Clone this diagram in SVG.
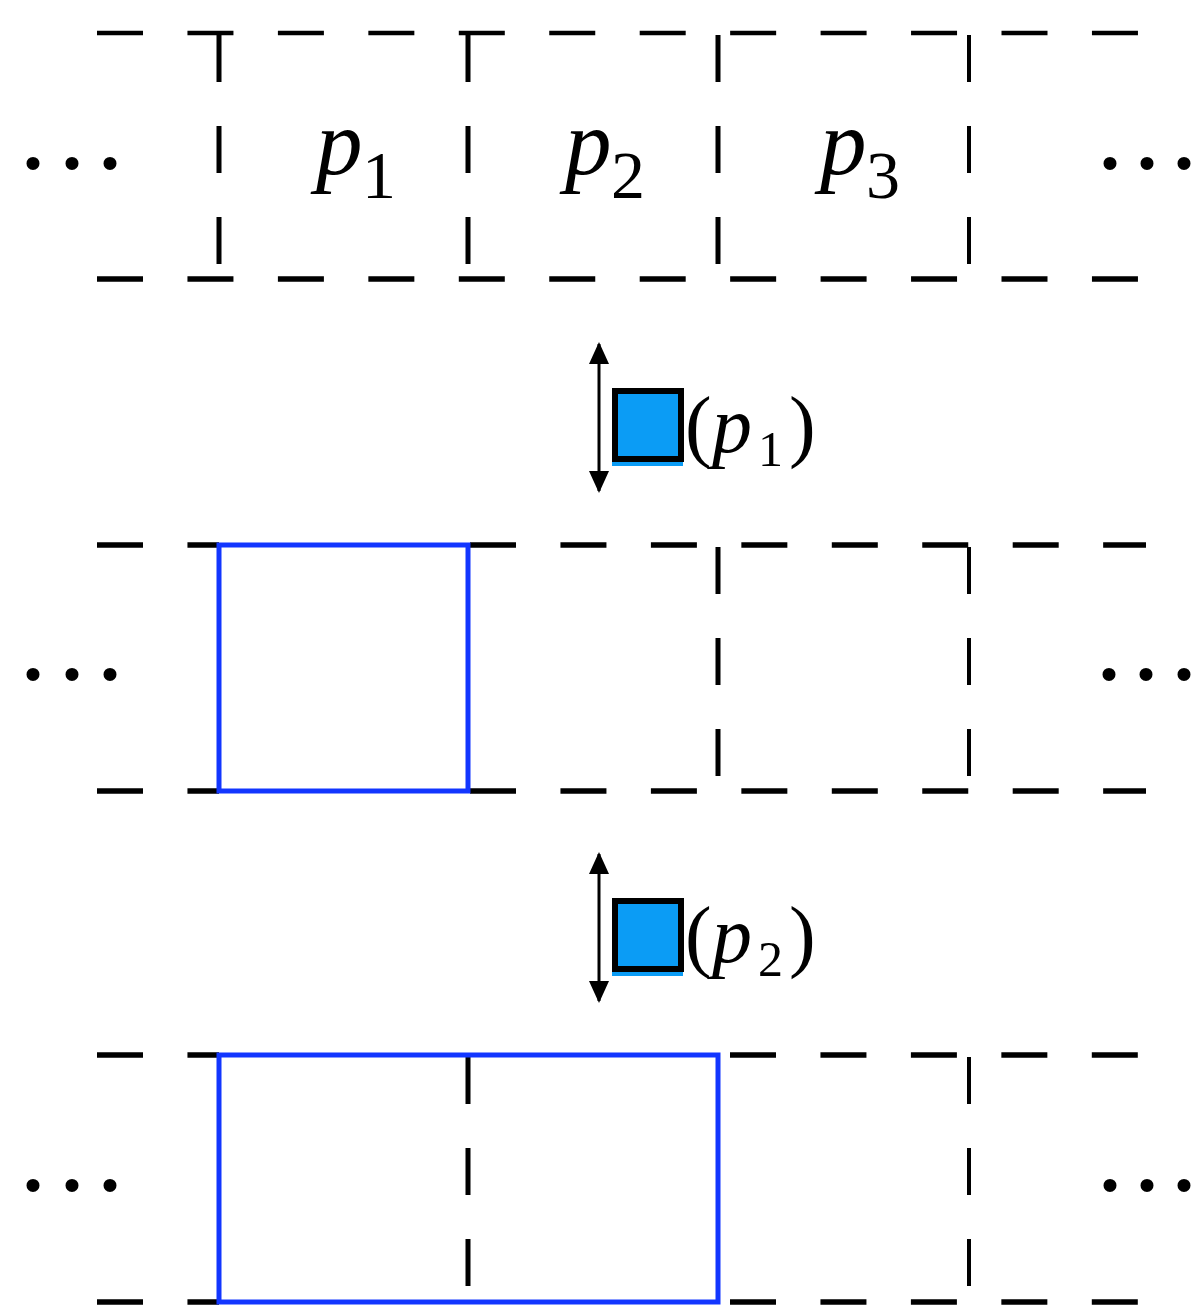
<svg xmlns="http://www.w3.org/2000/svg" width="1198" height="1308" viewBox="0 0 1198 1308">
<style>
.hd{stroke:#000;stroke-width:5.5;stroke-dasharray:46 44.45;fill:none}
.hd0{stroke:#000;stroke-width:4.5;stroke-dasharray:46 44.45;fill:none}
.vd{stroke:#000;stroke-width:5;stroke-dasharray:47 44;fill:none}
.vd4{stroke:#000;stroke-width:4;stroke-dasharray:47 44;fill:none}
.blue{stroke:#1236ff;stroke-width:5;fill:none}
.lbl{font-family:"Liberation Serif","Times New Roman",serif;font-size:93px;fill:#000}
.it{font-style:italic}
.sub{font-style:normal;font-size:68px}
.lab2{font-family:"Liberation Serif","Times New Roman",serif;font-size:80px;fill:#000}
.sub2{font-size:50px}
.dots{font-family:"Liberation Serif","Times New Roman",serif;font-size:110px;fill:#000;text-anchor:middle}
.arr{stroke:#000;stroke-width:3;fill:none}
.sqf{fill:#0b9cf5}
.sqs{fill:none;stroke:#000;stroke-width:6}
</style>
<defs>
<marker id="ah" viewBox="0 0 22 22" refX="20" refY="11" markerWidth="22" markerHeight="22" markerUnits="userSpaceOnUse" orient="auto-start-reverse">
<path d="M0,1 L22,11 L0,21 Z" fill="#000"/>
</marker>
</defs>

<g id="row1">
<line class="hd0" x1="97" y1="33" x2="1139" y2="33"/>
<line class="hd" x1="97" y1="279" x2="1139" y2="279"/>
<line class="vd" x1="219" y1="35" x2="219" y2="279"/>
<line class="vd" x1="468" y1="35" x2="468" y2="279"/>
<line class="vd" x1="718" y1="35" x2="718" y2="279"/>
<line class="vd4" x1="969" y1="35" x2="969" y2="279"/>
<text class="dots" x="33 72 110" y="168">...</text>
<text class="dots" x="1110 1147 1184" y="168">...</text>
<text id="p1" class="lbl"><tspan class="it" x="316" y="174">p</tspan><tspan class="sub" x="362" y="198">1</tspan></text>
<text id="p2" class="lbl"><tspan class="it" x="565" y="174">p</tspan><tspan class="sub" x="611" y="198">2</tspan></text>
<text id="p3" class="lbl"><tspan class="it" x="820" y="174">p</tspan><tspan class="sub" x="866" y="198">3</tspan></text>
</g>

<g id="op1">
<rect class="sqf" x="612" y="391" width="71" height="75"/>
<rect class="sqs" x="615" y="391" width="66" height="68"/>
<text class="lab2"><tspan x="685" y="452">(</tspan><tspan class="it" x="712" y="452">p</tspan><tspan class="sub2" x="758" y="466">1</tspan><tspan x="789" y="452">)</tspan></text>
</g>

<g id="row2">
<line class="hd" x1="97" y1="545" x2="219" y2="545"/>
<line class="hd" x1="470" y1="545" x2="1146" y2="545"/>
<line class="hd" x1="97" y1="791" x2="219" y2="791"/>
<line class="hd" x1="470" y1="791" x2="1146" y2="791"/>
<line class="vd" x1="718" y1="547" x2="718" y2="791"/>
<line class="vd4" x1="969" y1="547" x2="969" y2="791"/>
<rect class="blue" x="219" y="545" width="249" height="246"/>
<text class="dots" x="33 72 110" y="679">...</text>
<text class="dots" x="1109 1146 1184" y="679">...</text>
</g>

<g id="op2">
<rect class="sqf" x="612" y="901" width="71" height="75"/>
<rect class="sqs" x="615" y="901" width="66" height="68"/>
<text class="lab2"><tspan x="685" y="962">(</tspan><tspan class="it" x="712" y="962">p</tspan><tspan class="sub2" x="758" y="976">2</tspan><tspan x="789" y="962">)</tspan></text>
</g>

<g id="row3">
<line class="hd" x1="97" y1="1055" x2="219" y2="1055"/>
<line class="hd" x1="97" y1="1302" x2="219" y2="1302"/>
<line class="hd" x1="730" y1="1055" x2="1139" y2="1055"/>
<line class="hd" x1="730" y1="1302" x2="1139" y2="1302"/>
<line class="vd" x1="468" y1="1057" x2="468" y2="1302"/>
<line class="vd4" x1="969" y1="1057" x2="969" y2="1302"/>
<rect class="blue" x="219" y="1055" width="499" height="247"/>
<text class="dots" x="33 72 110" y="1190">...</text>
<text class="dots" x="1110 1147 1184" y="1190">...</text>
</g>

<g id="connectors">
<line class="arr" x1="599" y1="344" x2="599" y2="491" marker-start="url(#ah)" marker-end="url(#ah)"/>
<line class="arr" x1="599" y1="854" x2="599" y2="1001" marker-start="url(#ah)" marker-end="url(#ah)"/>
</g>
</svg>
